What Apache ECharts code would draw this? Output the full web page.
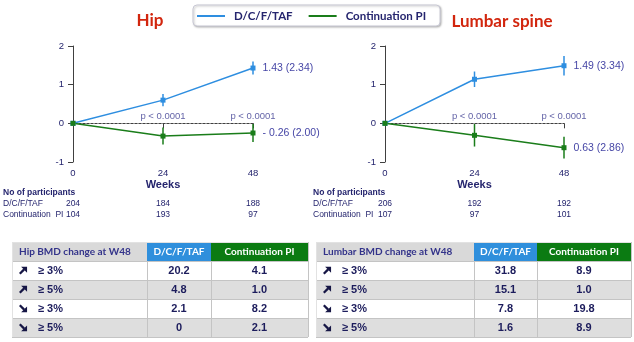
<!DOCTYPE html>
<html><head><meta charset="utf-8">
<script src="https://cdn.jsdelivr.net/npm/echarts@6/dist/echarts.min.js"></script>
<style>html,body{margin:0;padding:0;background:#fff}#c{width:634px;height:342px}</style>
</head><body><div id="c"></div>
<script>
// ---------------- data ----------------
const weeks = [0, 24, 48];
const seriesNames = ['D/C/F/TAF', 'Continuation PI'];
const panelTitles = ['Hip', 'Lumbar spine'];
const hipDcf = [0, 0.60, 1.43];
const hipDcfErr = [0, 0.16, 0.17];
const hipPi = [0, -0.33, -0.25];
const hipPiErr = [0, 0.22, 0.23];
const lumDcf = [0, 1.14, 1.49];
const lumDcfErr = [0, 0.20, 0.25];
const lumPi = [0, -0.31, -0.63];
const lumPiErr = [0, 0.29, 0.28];
const hipEndLabels = ['1.43 (2.34)', '- 0.26 (2.00)'];
const lumEndLabels = ['1.49 (3.34)', '0.63 (2.86)'];
const pWeeks = [24, 48];
const pLabels = ['p < 0.0001', 'p < 0.0001'];
const hipN_dcf = [204, 184, 188];
const hipN_pi = [104, 193, 97];
const lumN_dcf = [206, 192, 192];
const lumN_pi = [107, 97, 101];
const participantsTitle = 'No of participants';
const participantRowNames = ['D/C/F/TAF', 'Continuation  PI'];
const tableHeaders = ['D/C/F/TAF', 'Continuation PI'];
const tableRowLabels = ['≥ 3%', '≥ 5%', '≥ 3%', '≥ 5%'];
const tableRowDirs = ['up', 'up', 'down', 'down'];
const hipTableTitle = 'Hip BMD change at W48';
const lumTableTitle = 'Lumbar BMD change at W48';
const hipTableDcf = ['20.2', '4.8', '2.1', '0'];
const hipTablePi = ['4.1', '1.0', '8.2', '2.1'];
const lumTableDcf = ['31.8', '15.1', '7.8', '1.6'];
const lumTablePi = ['8.9', '1.0', '19.8', '8.9'];

// ---------------- style ----------------
const BLUE = '#2e8ee0', GREEN = '#1a7d1a';
const NAVY = '#25256e', LABEL = '#4646a6';
const ARIAL = 'Liberation Sans, Arial, sans-serif';
const LATO = 'Lato, Open Sans, sans-serif';

const panels = [
  {grid:{left:73, top:46, width:180, height:116}, dcf:hipDcf, dcfErr:hipDcfErr, pi:hipPi, piErr:hipPiErr, ends:hipEndLabels, nd:hipN_dcf, np:hipN_pi},
  {grid:{left:385, top:46, width:179, height:116}, dcf:lumDcf, dcfErr:lumDcfErr, pi:lumPi, piErr:lumPiErr, ends:lumEndLabels, nd:lumN_dcf, np:lumN_pi}
];

const grids = [], xAxes = [], yAxes = [], series = [];
panels.forEach((p, g) => {
  grids.push(Object.assign({containLabel:false}, p.grid));
  xAxes.push({gridIndex:g, type:'value', min:0, max:48, interval:24,
    axisLine:{lineStyle:{color:'#404040', width:1}},
    axisTick:{length:5, lineStyle:{color:'#404040'}},
    axisLabel:{color:NAVY, fontSize:9.5, fontFamily:ARIAL, margin:6},
    splitLine:{show:false},
    name:'Weeks', nameLocation:'middle', nameGap:17,
    nameTextStyle:{color:NAVY, fontWeight:'bold', fontSize:11, fontFamily:ARIAL}});
  [[p.nd, 31], [p.np, 42]].forEach(([arr, off]) => {
    xAxes.push({gridIndex:g, type:'value', min:0, max:48, interval:24, position:'bottom', offset:off,
      axisLine:{show:false}, axisTick:{show:false}, splitLine:{show:false},
      axisLabel:{color:NAVY, fontSize:8.5, fontFamily:ARIAL, margin:6,
        formatter:v => { const i = weeks.indexOf(v); return i >= 0 ? String(arr[i]) : ''; }}});
  });
  yAxes.push({gridIndex:g, type:'value', min:-1, max:2, interval:1,
    axisLine:{show:true, lineStyle:{color:'#404040', width:1}},
    axisTick:{show:true, length:5, lineStyle:{color:'#404040'}},
    axisLabel:{color:NAVY, fontSize:9.5, fontFamily:ARIAL, margin:9},
    splitLine:{show:false}});
  const xi = g * 3;
  series.push({type:'scatter', name:'p'+g, xAxisIndex:xi, yAxisIndex:g, z:1, symbolSize:0,
    data: pWeeks.map((w, i) => ({value:[w, 0], label:{formatter: pLabels[i]}})),
    label:{show:true, position:'top', distance:2, color:'#3a3a90', fontSize:9.5, fontFamily:ARIAL},
    markLine:{silent:true, symbol:'none', label:{show:false},
      lineStyle:{color:'#8a8a8a', type:[2,2], width:1}, data:[{yAxis:0}]}});
  [[p.dcf, p.dcfErr, BLUE, 0], [p.pi, p.piErr, GREEN, 1]].forEach(([vals, errs, col, k]) => {
    series.push({type:'custom', name:'err'+g+k, xAxisIndex:xi, yAxisIndex:g, z:4,
      data: weeks.map((w, i) => [w, vals[i] - errs[i], vals[i] + errs[i]]),
      renderItem:(params, api) => {
        const a = api.coord([api.value(0), api.value(1)]);
        const b = api.coord([api.value(0), api.value(2)]);
        return {type:'line', shape:{x1:a[0], y1:a[1], x2:b[0], y2:b[1]},
          style:{stroke:col, lineWidth:1.5}};
      }});
    series.push({type:'line', name:seriesNames[k], xAxisIndex:xi, yAxisIndex:g, z:5,
      symbol:'rect', symbolSize:5, color:col, lineStyle:{color:col, width:1.5},
      itemStyle:{color:col}, animation:false,
      data: weeks.map((w, i) => {
        const item = {value:[w, vals[i]]};
        if (i === weeks.length - 1) item.label = {show:true, position:'right', distance:7,
          formatter:p.ends[k], color:LABEL, fontSize:10.5, fontFamily:ARIAL};
        return item;
      })});
  });
});

// ---------------- graphic: titles, participants, tables ----------------
const graphic = [];
function txt(x, y, text, opt) {
  graphic.push({type:'text', silent:true, z:10, style:Object.assign({x, y, text,
    textAlign:'left', align:'left', textVerticalAlign:'middle', verticalAlign:'middle'}, opt)});
}
function arrow(x, cy, dir) {
  // heavy diagonal arrow in a 9x9 box
  const s = 0.85, y0 = cy - 4.5 * s;
  const f = dir === 'up' ? (px, py) => [x + px * s, y0 + py * s] : (px, py) => [x + px * s, y0 + (9 - py) * s];
  const head = [[9.5, 0], [9.5, 7], [2.5, 0]].map(q => f(q[0], q[1]));
  const shaft = [[0, 7.3], [1.9, 9.2], [7, 4.1], [5.1, 2.2]].map(q => f(q[0], q[1]));
  [head, shaft].forEach(pts => graphic.push({type:'polygon', silent:true, z:10,
    shape:{points:pts}, style:{fill:'#161645'}}));
}
txt(150, 21, panelTitles[0], {textAlign:'center', align:'center', fill:'#d2260e', font:'bold 17px ' + LATO});
txt(502, 22, panelTitles[1], {textAlign:'center', align:'center', fill:'#d2260e', font:'bold 17px ' + LATO});
[3, 313].forEach(x => {
  txt(x, 192.5, participantsTitle, {fill:NAVY, font:'bold 8.5px ' + ARIAL});
  txt(x, 204, participantRowNames[0], {fill:NAVY, font:'8.5px ' + ARIAL});
  txt(x, 215, participantRowNames[1], {fill:NAVY, font:'8.5px ' + ARIAL});
});

function buildTable(cols, title, dcfVals, piVals) {
  const top = 242, hh = 19, rh = 19;
  const x0 = cols[0], x3 = cols[3];
  const rect = (x, y, w, h, fill) => graphic.push({type:'rect', silent:true, z:5,
    shape:{x, y, width:w, height:h}, style:{fill}});
  const line = (x1, y1, x2, y2, c) => graphic.push({type:'line', silent:true, z:6,
    shape:{x1, y1, x2, y2}, style:{stroke:c || '#c4c4c4', lineWidth:1}});
  rect(cols[0], top, cols[1] - cols[0], hh, '#d9d9d9');
  rect(cols[1], top, cols[2] - cols[1], hh, '#2f8fdc');
  rect(cols[2], top, cols[3] - cols[2], hh, '#0b7b12');
  txt(x0 + 7, top + hh / 2, title, {fill:'#33338a', font:'bold 10px ' + LATO});
  txt((cols[1] + cols[2]) / 2, top + hh / 2, tableHeaders[0], {textAlign:'center', align:'center', fill:'#fff', font:'bold 10px ' + LATO});
  txt((cols[2] + cols[3]) / 2, top + hh / 2, tableHeaders[1], {textAlign:'center', align:'center', fill:'#fff', font:'bold 10px ' + LATO});
  tableRowLabels.forEach((lab, i) => {
    const y = top + hh + i * rh;
    rect(x0, y, x3 - x0, rh, i % 2 ? '#dedede' : '#ffffff');
    arrow(x0 + 7, y + rh / 2, tableRowDirs[i]);
    txt(x0 + 26, y + rh / 2, lab, {fill:'#1c1c5c', font:'bold 11px ' + ARIAL});
    txt((cols[1] + cols[2]) / 2, y + rh / 2, dcfVals[i], {textAlign:'center', align:'center', fill:'#1c1c5c', font:'bold 11px ' + ARIAL});
    txt((cols[2] + cols[3]) / 2, y + rh / 2, piVals[i], {textAlign:'center', align:'center', fill:'#1c1c5c', font:'bold 11px ' + ARIAL});
    line(x0, y + 0.5, x3, y + 0.5);
  });
  const bottom = top + hh + tableRowLabels.length * rh;
  line(x0, top + 0.5, x3, top + 0.5, '#e2e2e2');
  line(x0, bottom + 0.5, x3, bottom + 0.5);
  cols.forEach((cx, j) => line(cx + 0.5, top + (j === 0 || j === 3 ? 0 : hh), cx + 0.5, bottom, j === 0 ? '#e2e2e2' : '#c4c4c4'));
}
buildTable([12, 147, 211, 308], hipTableTitle, hipTableDcf, hipTablePi);
buildTable([316, 474, 537, 631], lumTableTitle, lumTableDcf, lumTablePi);

const chart = echarts.init(document.getElementById('c'), null, {renderer:'canvas'});
chart.setOption({
  animation:false,
  backgroundColor:'#fff',
  legend:{data:seriesNames, left:193, top:5, icon:'rect', itemWidth:28, itemHeight:2, itemGap:16,
    padding:[5, 14, 4, 4], backgroundColor:'#fff', borderColor:'#c8c8d4', borderWidth:1, borderRadius:4,
    shadowColor:'rgba(0,0,0,0.25)', shadowBlur:2, shadowOffsetX:1, shadowOffsetY:1,
    textStyle:{color:NAVY, fontWeight:'bold', fontSize:11.5, fontFamily:LATO, padding:[0, 0, 0, 4]}},
  grid:grids, xAxis:xAxes, yAxis:yAxes, series:series, graphic:graphic
});
</script></body></html>
